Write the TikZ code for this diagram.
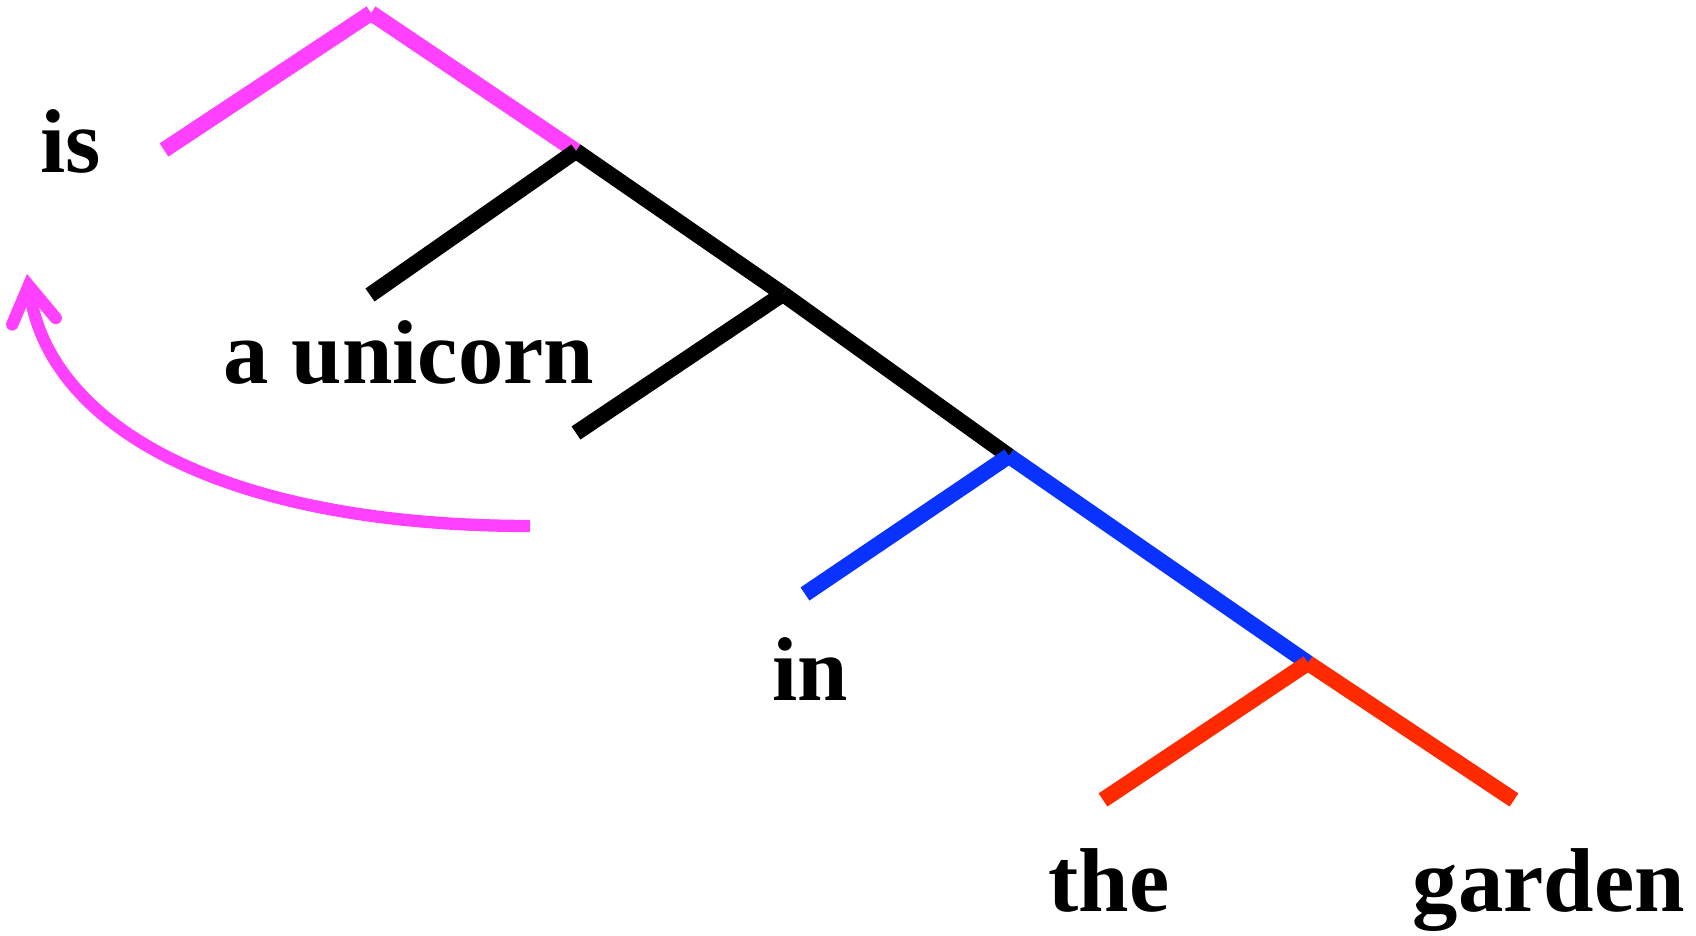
\documentclass[tikz,border=0pt]{standalone}
\usepackage{fontspec}
\setmainfont{Liberation Serif}
\usetikzlibrary{arrows.meta}
\definecolor{treePink}{HTML}{FF40FF}
\definecolor{treeBlue}{HTML}{0A32FF}
\definecolor{treeRed}{HTML}{FF2A00}
\begin{document}
\begin{tikzpicture}[
    word/.style={anchor=base, inner sep=0pt, font=\fontsize{25.8}{30}\selectfont\bfseries},
    branch/.style={line width=4.5pt, line cap=butt},
    move/.style={draw=treePink, line width=3.5pt, line cap=butt,
                 -{Straight Barb[length=3.6mm, width=4.4mm, line cap=round]}},
]
\useasboundingbox (0,0) rectangle (16.96,-9.36);
% junctions and leaf ends
\coordinate (top)   at (3.71, -0.13);
\coordinate (isend) at (1.64, -1.50);
\coordinate (n1)    at (5.76, -1.51);
\coordinate (unend) at (3.70, -2.95);
\coordinate (n2)    at (7.83, -2.94);
\coordinate (gapend) at (5.76, -4.33);
\coordinate (n3)    at (10.09, -4.56);
\coordinate (inend) at (8.05, -5.94);
\coordinate (n4)    at (13.08, -6.63);
\coordinate (theend) at (11.03, -8.00);
\coordinate (gdend) at (15.14, -8.00);
% words
\node[word] (is)      at (0.705, -1.73) {is};
\node[word] (unicorn) at (4.09, -3.84)  {a unicorn};
\node[word] (in)      at (8.10, -7.01)  {in};
\node[word] (the)     at (11.09, -9.12) {the};
\node[word] (garden)  at (15.49, -9.12) {garden};
% branches
\draw[branch, treePink] (top) -- (isend);
\draw[branch, treePink] (top) -- (n1);
\draw[branch, black] (n1) -- (unend);
\draw[branch, black] (n1) -- (n2);
\draw[branch, black] (n2) -- (gapend);
\draw[branch, black] (n2) -- (n3);
\draw[branch, treeBlue] (n3) -- (inend);
\draw[branch, treeBlue] (n3) -- (n4);
\draw[branch, treeRed] (n4) -- (theend);
\draw[branch, treeRed] (n4) -- (gdend);
% movement arrow
\coordinate (movefrom) at (5.30, -5.26);
\coordinate (moveto)   at (0.27, -2.74);
\draw[move] (movefrom) .. controls (2.3, -5.26) and (0.50, -4.3) .. (moveto);
\end{tikzpicture}
\end{document}
